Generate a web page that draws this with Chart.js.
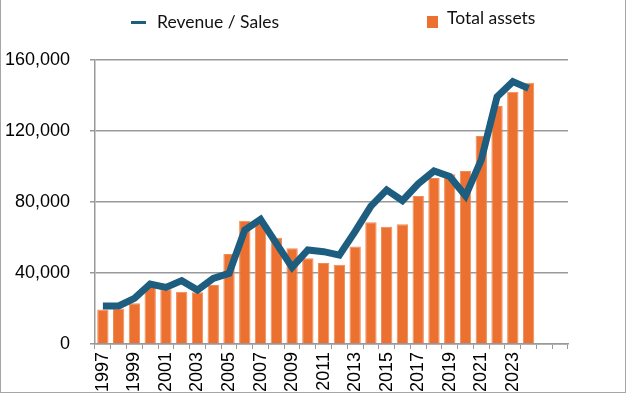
<!DOCTYPE html>
<html>
<head>
<meta charset="utf-8">
<script src="https://cdn.jsdelivr.net/npm/chart.js@4/dist/chart.umd.min.js"></script>
<style>
  body { margin: 0; background: #fff; }
  #wrap { position: relative; width: 626px; height: 393px; overflow: hidden; }
  #frame { position: absolute; left: 0; top: 0; width: 626px; height: 393px; box-sizing: border-box;
           border-left: 1px solid #a6a6a6; border-right: 1px solid #a6a6a6; border-bottom: 1px solid #a6a6a6; pointer-events: none; }
  .leg { position: absolute; font-family: Lato, "Liberation Sans", sans-serif; font-size: 17.5px; color: #111; line-height: 22px; white-space: nowrap; }
  .sw-line { position: absolute; width: 15px; height: 3px; background: #1c5d80; }
  .sw-box { position: absolute; width: 11px; height: 12px; background: #ec7131; }
</style>
</head>
<body>
<div id="wrap">
  <canvas id="chart" width="626" height="393"></canvas>
  <div class="sw-line" style="left:131px; top:21px;"></div>
  <div class="leg" style="left:157px; top:11px;">Revenue / Sales</div>
  <div class="sw-box" style="left:427px; top:16px;"></div>
  <div class="leg" style="left:447px; top:7px;">Total assets</div>
  <div id="frame"></div>
</div>
<script>
// years on the x axis (two empty slots at the end)
const years = ['1997','1998','1999','2000','2001','2002','2003','2004','2005','2006',
  '2007','2008','2009','2010','2011','2012','2013','2014','2015','2016',
  '2017','2018','2019','2020','2021','2022','2023','2024','',''];

const totalAssets = [19500, 20000, 23000, 32300, 30800, 29500, 29100, 33200, 50700, 69500,
  68000, 59900, 53900, 48300, 45700, 44700, 54900, 68600, 66100, 67500,
  83400, 93500, 95700, 97400, 117200, 134100, 142100, 147200];

const revenue = [21400, 21400, 25700, 33800, 31900, 35700, 30400, 37000, 39800, 64200,
  70200, 56700, 43200, 53000, 52000, 50100, 63400, 77700, 86800, 80700,
  90200, 97500, 94400, 83500, 103700, 139300, 147800, 144000];

const yTicks = [0, 40000, 80000, 120000, 160000];

const tickFont = { family: "'Liberation Sans', Arial, sans-serif", size: 18 };

const ctx = document.getElementById('chart').getContext('2d');
new Chart(ctx, {
  data: {
    labels: years,
    datasets: [
      {
        type: 'line',
        label: 'Revenue / Sales',
        data: revenue,
        borderColor: '#1c5d80',
        borderWidth: 7,
        pointRadius: 0,
        tension: 0,
        fill: false,
        order: 0
      },
      {
        type: 'bar',
        label: 'Total assets',
        data: totalAssets,
        backgroundColor: '#ec7131',
        borderColor: '#f08c55',
        borderWidth: 1,
        barPercentage: 0.72,
        categoryPercentage: 1,
        order: 1
      }
    ]
  },
  options: {
    responsive: false,
    animation: false,
    layout: { padding: { top: 60, right: 58, left: 0, bottom: 0 } },
    plugins: {
      legend: { display: false },
      tooltip: { enabled: false }
    },
    scales: {
      x: {
        offset: true,
        grid: { offset: true, drawOnChartArea: false, drawTicks: true, tickLength: 5, color: '#999', lineWidth: 1 },
        border: { color: '#999', width: 1.5 },
        ticks: {
          autoSkip: false,
          maxRotation: 90,
          minRotation: 90,
          padding: 3,
          color: '#000',
          font: tickFont,
          callback: function (v, i) { return i % 2 === 0 ? years[i] : ''; }
        },
        afterFit: function (s) { s.height = 49; }
      },
      y: {
        min: 0,
        max: 160000,
        afterBuildTicks: function (s) { s.ticks = yTicks.map(v => ({ value: v })); },
        grid: { color: '#999', lineWidth: 1.5, tickLength: 5 },
        border: { color: '#999', width: 1.5 },
        ticks: {
          padding: 20,
          color: '#000',
          font: tickFont,
          callback: function (v) { return v.toLocaleString('en-US'); }
        },
        afterFit: function (s) { s.width = 95; }
      }
    }
  }
});
</script>
</body>
</html>
